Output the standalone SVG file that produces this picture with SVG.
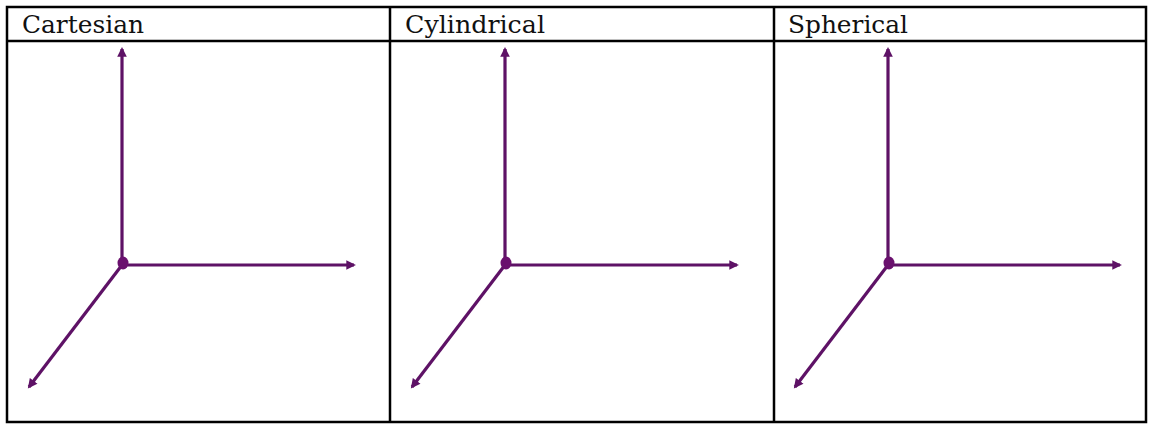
<svg xmlns="http://www.w3.org/2000/svg" width="1153" height="424" viewBox="0 0 1153 424">
<defs>
<style>
.hdr{font-family:"DejaVu Serif","Liberation Serif",serif;font-size:25px;fill:#111;}
.grid{stroke:#000;stroke-width:2.5;fill:none;}
.ax{stroke:#5e1266;stroke-width:3.2;fill:none;}
.dot{fill:#6a106e;}
</style>
<marker id="ah" viewBox="0 0 10 10" refX="8" refY="5" markerWidth="3.2" markerHeight="3" orient="auto" markerUnits="strokeWidth">
<path d="M0,0 L10,5 L0,10 z" fill="#5e1266"/>
</marker>
</defs>
<rect width="1153" height="424" fill="#fff"/>
<g id="table">
<rect class="grid" x="7" y="7" width="1139" height="415"/>
<line class="grid" x1="7" y1="41" x2="1146" y2="41"/>
<line class="grid" x1="390" y1="7" x2="390" y2="422"/>
<line class="grid" x1="774" y1="7" x2="774" y2="422"/>
</g>
<g id="headers">
<text class="hdr" x="22" y="33" textLength="122" lengthAdjust="spacingAndGlyphs">Cartesian</text>
<text class="hdr" x="405" y="33" textLength="140" lengthAdjust="spacingAndGlyphs">Cylindrical</text>
<text class="hdr" x="788" y="33" textLength="120" lengthAdjust="spacingAndGlyphs">Spherical</text>
</g>
<g id="connectors">
<line class="ax" x1="122" y1="265" x2="122" y2="49" marker-end="url(#ah)"/>
<line class="ax" x1="122" y1="265" x2="354" y2="265" marker-end="url(#ah)"/>
<line class="ax" x1="122" y1="265" x2="29" y2="387" marker-end="url(#ah)"/>
<line class="ax" x1="505" y1="265" x2="505" y2="49" marker-end="url(#ah)"/>
<line class="ax" x1="505" y1="265" x2="737" y2="265" marker-end="url(#ah)"/>
<line class="ax" x1="505" y1="265" x2="412" y2="387" marker-end="url(#ah)"/>
<line class="ax" x1="888" y1="265" x2="888" y2="49" marker-end="url(#ah)"/>
<line class="ax" x1="888" y1="265" x2="1120" y2="265" marker-end="url(#ah)"/>
<line class="ax" x1="888" y1="265" x2="795" y2="387" marker-end="url(#ah)"/>
</g>
<g id="origin-cartesian"><ellipse class="dot" cx="123" cy="263" rx="5.5" ry="6.5"/></g>
<g id="origin-cylindrical"><ellipse class="dot" cx="506" cy="263" rx="5.5" ry="6.5"/></g>
<g id="origin-spherical"><ellipse class="dot" cx="889" cy="263" rx="5.5" ry="6.5"/></g>
</svg>
